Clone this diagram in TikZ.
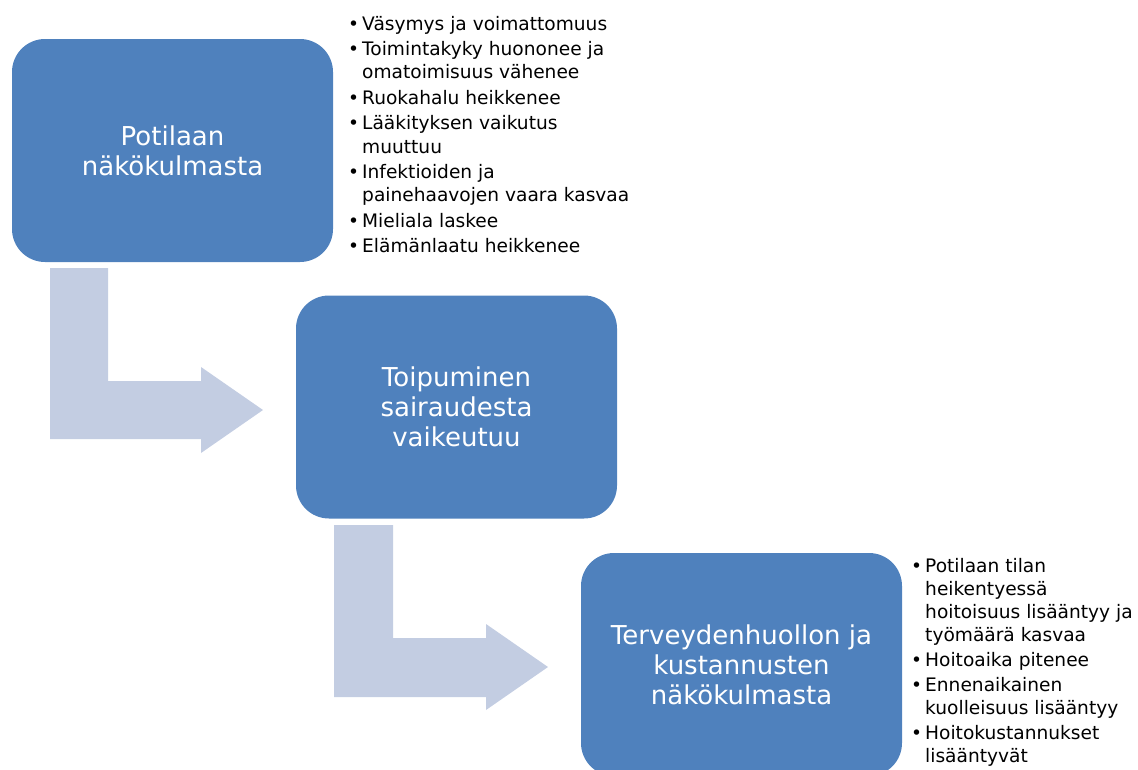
\documentclass[tikz,border=0pt]{standalone}
\usepackage{fontspec}
\setmainfont{DejaVu Sans}
\definecolor{boxblue}{HTML}{4F81BD}
\definecolor{arrowblue}{HTML}{C3CDE2}
\newcommand\bitem[1]{\par\hangindent=14pt\hangafter=1\noindent\makebox[14pt][l]{•}#1}
\newcommand\blist[3]{\parbox[t]{#1}{\raggedright\fontsize{18.6}{23.3}\selectfont\setlength{\parskip}{#2}#3}}
\tikzset{
  box/.style={fill=boxblue, rounded corners=33pt, minimum width=321pt, minimum height=223pt,
    text=white, align=center, font=\fontsize{26}{30}\selectfont, inner sep=0pt},
  bentarrow/.style={fill=arrowblue},
  listnode/.style={anchor=base west, inner sep=0pt, text=black}
}
\begin{document}
\begin{tikzpicture}[x=1pt, y=-1pt]
\useasboundingbox (0,0) rectangle (1138,769);
% bent arrows
\fill[bentarrow] (50,268) -- (108,268) -- (108,381) -- (201,381) -- (201,367) -- (263,410)
  -- (201,453) -- (201,439) -- (50,439) -- cycle;
\fill[bentarrow] (334,525) -- (393,525) -- (393,638) -- (486,638) -- (486,624) -- (548,667)
  -- (486,710) -- (486,697) -- (334,697) -- cycle;
% boxes
\node[box] (b1) at (172.5,150.5) {Potilaan\\näkökulmasta};
\node[box] (b2) at (456.5,407) {Toipuminen\\sairaudesta\\vaikeutuu};
\node[box] (b3) at (741.5,664.5) {Terveydenhuollon ja\\kustannusten\\näkökulmasta};
% lists
\node[listnode] (l1) at (348,30) {\blist{330pt}{2.2pt}{%
\bitem{Väsymys ja voimattomuus}
\bitem{Toimintakyky huononee ja\newline omatoimisuus vähenee}
\bitem{Ruokahalu heikkenee}
\bitem{Lääkityksen vaikutus\newline muuttuu}
\bitem{Infektioiden ja\newline painehaavojen vaara kasvaa}
\bitem{Mieliala laskee}
\bitem{Elämänlaatu heikkenee}}};
\node[listnode] (l2) at (911,572) {\blist{240pt}{1.5pt}{%
\bitem{Potilaan tilan\newline heikentyessä\newline hoitoisuus lisääntyy ja\newline työmäärä kasvaa}
\bitem{Hoitoaika pitenee}
\bitem{Ennenaikainen\newline kuolleisuus lisääntyy}
\bitem{Hoitokustannukset\newline lisääntyvät}}};
\end{tikzpicture}
\end{document}
